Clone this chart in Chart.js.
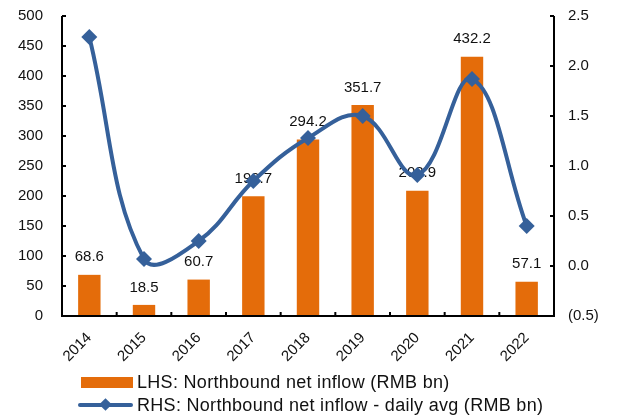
<!DOCTYPE html>
<html>
<head>
<meta charset="utf-8">
<script src="https://cdn.jsdelivr.net/npm/chart.js@4.4.0/dist/chart.umd.min.js"></script>
<style>
  html, body { margin: 0; padding: 0; background: #fff; }
  #wrap { position: relative; width: 618px; height: 420px; font-family: "Liberation Sans", Arial, sans-serif; }
  #chart { position: absolute; left: 0; top: 0; }
  .legend-row { position: absolute; left: 78px; height: 22px; display: flex; align-items: center; font-size: 18px; letter-spacing: 0.3px; color: #111; white-space: nowrap; }
  .swatch-bar { width: 52px; height: 11px; background: #E46C0A; margin-left: 3px; margin-right: 4px; }
  .swatch-line { position: relative; width: 55px; height: 22px; margin-right: 4px; }
  .swatch-line .ln { position: absolute; left: 0; top: 9px; width: 55px; height: 4px; background: #35609A; border-radius: 2px; }
  .swatch-line .dm { position: absolute; left: 23px; top: 6px; width: 9px; height: 9px; background: #35609A; transform: rotate(45deg); }
</style>
</head>
<body>
<div id="wrap">
  <canvas id="chart" width="618" height="420"></canvas>
  <div class="legend-row" style="top:371px;"><div class="swatch-bar"></div><span>LHS: Northbound net inflow (RMB bn)</span></div>
  <div class="legend-row" style="top:394px;"><div class="swatch-line"><div class="ln"></div><div class="dm"></div></div><span>RHS: Northbound net inflow - daily avg (RMB bn)</span></div>
</div>
<script>
// 数据
const years = ['2014', '2015', '2016', '2017', '2018', '2019', '2020', '2021', '2022'];
const netInflow = [68.6, 18.5, 60.7, 199.7, 294.2, 351.7, 208.9, 432.2, 57.1];
const dailyAvg = [2.29, 0.07, 0.25, 0.85, 1.28, 1.50, 0.91, 1.87, 0.40];

const ORANGE = '#E46C0A';
const BLUE = '#35609A';
const FONT = '"Liberation Sans", Arial, sans-serif';

// 柱顶数值标签（画在折线下面）
const barLabels = {
    id: 'barLabels',
    beforeDatasetsDraw(chart) {
        const ctx = chart.ctx;
        const meta = chart.getDatasetMeta(1);
        ctx.save();
        ctx.font = '15px ' + FONT;
        ctx.fillStyle = '#111';
        ctx.textAlign = 'center';
        ctx.textBaseline = 'bottom';
        meta.data.forEach((bar, i) => {
            ctx.fillText(netInflow[i].toFixed(1), bar.x, bar.y - 10);
        });
        ctx.restore();
    }
};

// 坐标轴与朝内的刻度线
const axisLines = {
    id: 'axisLines',
    afterDraw(chart) {
        const ctx = chart.ctx;
        const area = chart.chartArea;
        const yL = chart.scales.y;
        const yR = chart.scales.y1;
        const x = chart.scales.x;
        const len = 4;
        ctx.save();
        ctx.strokeStyle = '#000';
        ctx.lineWidth = 2;
        ctx.beginPath();
        ctx.moveTo(area.left, area.top);
        ctx.lineTo(area.left, area.bottom);
        ctx.lineTo(area.right, area.bottom);
        ctx.lineTo(area.right, area.top);
        yL.ticks.forEach(t => {
            const py = yL.getPixelForValue(t.value);
            ctx.moveTo(area.left, py);
            ctx.lineTo(area.left + len, py);
        });
        yR.ticks.forEach(t => {
            const py = yR.getPixelForValue(t.value);
            ctx.moveTo(area.right, py);
            ctx.lineTo(area.right - len, py);
        });
        const half = (x.getPixelForValue(1) - x.getPixelForValue(0)) / 2;
        for (let i = 0; i < years.length - 1; i++) {
            const px = x.getPixelForValue(i) + half;
            ctx.moveTo(px, area.bottom);
            ctx.lineTo(px, area.bottom - len);
        }
        ctx.stroke();
        ctx.restore();
    }
};

// 固定坐标轴尺寸，去掉刻度标签带来的额外留白
const fixWidth = w => scale => {
    scale.width = w;
    scale.paddingTop = 0;
    scale.paddingBottom = 0;
};

new Chart(document.getElementById('chart'), {
    data: {
        labels: years,
        datasets: [
            {
                type: 'line',
                label: 'RHS: Northbound net inflow - daily avg (RMB bn)',
                data: dailyAvg,
                yAxisID: 'y1',
                borderColor: BLUE,
                backgroundColor: BLUE,
                borderWidth: 4,
                tension: 0.4,
                pointStyle: 'rectRot',
                pointRadius: 8,
                pointBackgroundColor: BLUE,
                pointBorderWidth: 0,
                order: 0
            },
            {
                type: 'bar',
                label: 'LHS: Northbound net inflow (RMB bn)',
                data: netInflow,
                yAxisID: 'y',
                backgroundColor: ORANGE,
                categoryPercentage: 1,
                barPercentage: 0.41,
                order: 1
            }
        ]
    },
    options: {
        responsive: false,
        animation: false,
        layout: { padding: { top: 16 } },
        plugins: {
            legend: { display: false },
            tooltip: { enabled: false }
        },
        scales: {
            x: {
                grid: { display: false, drawTicks: false },
                border: { display: false },
                ticks: {
                    color: '#111',
                    font: { family: FONT, size: 15 },
                    minRotation: 45,
                    maxRotation: 45,
                    padding: 13
                },
                afterFit(scale) {
                    scale.height = 104;
                    scale.paddingLeft = 0;
                    scale.paddingRight = 0;
                }
            },
            y: {
                position: 'left',
                min: 0,
                max: 500,
                grid: { display: false, drawTicks: false },
                border: { display: false },
                ticks: {
                    stepSize: 50,
                    color: '#111',
                    font: { family: FONT, size: 15 },
                    padding: 19
                },
                afterFit: fixWidth(62)
            },
            y1: {
                position: 'right',
                min: -0.5,
                max: 2.5,
                grid: { display: false, drawTicks: false },
                border: { display: false },
                ticks: {
                    stepSize: 0.5,
                    color: '#111',
                    font: { family: FONT, size: 15 },
                    padding: 14,
                    callback: v => v < 0 ? '(' + Math.abs(v).toFixed(1) + ')' : v.toFixed(1)
                },
                afterFit: fixWidth(64)
            }
        }
    },
    plugins: [barLabels, axisLines]
});
</script>
</body>
</html>
